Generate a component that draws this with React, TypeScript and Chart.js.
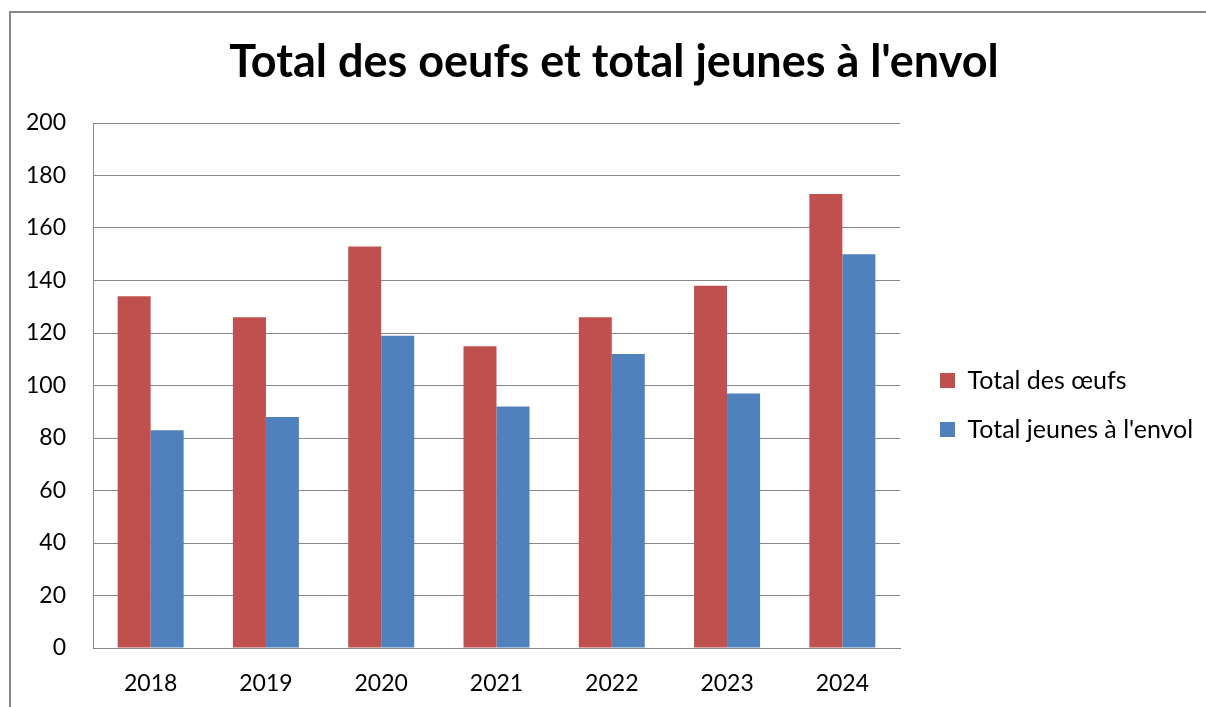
import React, { useEffect, useRef } from "react";
import { Chart, registerables } from "chart.js";

Chart.register(...registerables);

const years = ["2018", "2019", "2020", "2021", "2022", "2023", "2024"];
const totalOeufs = [134, 126, 153, 115, 126, 138, 173];
const totalJeunes = [83, 88, 119, 92, 112, 97, 150];
const seriesLabels = ["Total des œufs", "Total jeunes à l'envol"];
const titleText = "Total des oeufs et total jeunes à l'envol";

const FONT = "Lato, 'Open Sans', sans-serif";
const GRID = "#878787";

const legendPlacement = {
  id: "legendPlacement",
  beforeLayout(chart: any) {
    const lg = chart.legend;
    if (lg && !lg.__patched) {
      const orig = lg.fit.bind(lg);
      lg.fit = () => {
        orig();
        lg.width = 328;
      };
      lg.__patched = true;
    }
  },
  afterLayout(chart: any) {
    const lg = chart.legend;
    if (!lg) return;
    lg.left = 916;
    lg.right = 1228;
    lg.width = lg.right - lg.left;
    lg.top = 305;
    lg.bottom = 505;
    lg.height = lg.bottom - lg.top;
  },
};

export default function App() {
  const ref = useRef<HTMLCanvasElement | null>(null);

  useEffect(() => {
    if (!ref.current) return;
    const chart = new Chart(ref.current, {
      type: "bar",
      data: {
        labels: years,
        datasets: [
          {
            label: seriesLabels[0],
            data: totalOeufs,
            backgroundColor: "#C0504D",
            borderWidth: 0,
          },
          {
            label: seriesLabels[1],
            data: totalJeunes,
            backgroundColor: "#4F81BD",
            borderWidth: 0,
          },
        ],
      },
      options: {
        responsive: false,
        animation: false,
        devicePixelRatio: 1,
        layout: { padding: 0 },
        datasets: {
          bar: { categoryPercentage: 0.5725, barPercentage: 1 },
        },
        plugins: {
          title: {
            display: true,
            text: titleText,
            color: "#000",
            font: { family: FONT, size: 45, weight: "bold", lineHeight: 1.2 },
            padding: { top: 35, bottom: 34 },
          },
          legend: {
            position: "right",
            align: "center",
            labels: {
              color: "#000",
              font: { family: FONT, size: 25 },
              boxWidth: 15,
              boxHeight: 15,
              padding: 24,
            },
          },
          tooltip: { enabled: false },
        },
        scales: {
          x: {
            grid: { display: false, drawTicks: false },
            border: { display: true, color: GRID, width: 1 },
            ticks: {
              color: "#000",
              font: { family: FONT, size: 23 },
              padding: 22,
              maxRotation: 0,
            },
            afterFit: (s: any) => {
              s.height = 59;
            },
          },
          y: {
            min: 0,
            max: 200,
            grid: { color: GRID, lineWidth: 1, drawTicks: false },
            border: { display: true, color: GRID, width: 1 },
            ticks: {
              stepSize: 20,
              color: "#000",
              font: { family: FONT, size: 23 },
              padding: 27,
            },
            afterFit: (s: any) => {
              s.width = 93;
            },
          },
        },
      },
      plugins: [legendPlacement],
    });
    return () => chart.destroy();
  }, []);

  return (
    <div
      style={{
        position: "absolute",
        left: 0,
        top: 0,
        width: 1206,
        height: 707,
        overflow: "hidden",
        background: "#fff",
      }}
    >
      <div
        style={{
          position: "absolute",
          left: 9,
          top: 11,
          width: 1300,
          height: 800,
          borderTop: "2px solid " + GRID,
          borderLeft: "2px solid " + GRID,
        }}
      />
      <canvas
        ref={ref}
        width={1228}
        height={707}
        style={{ position: "absolute", left: 0, top: 0, width: 1228, height: 707, display: "block" }}
      />
    </div>
  );
}
